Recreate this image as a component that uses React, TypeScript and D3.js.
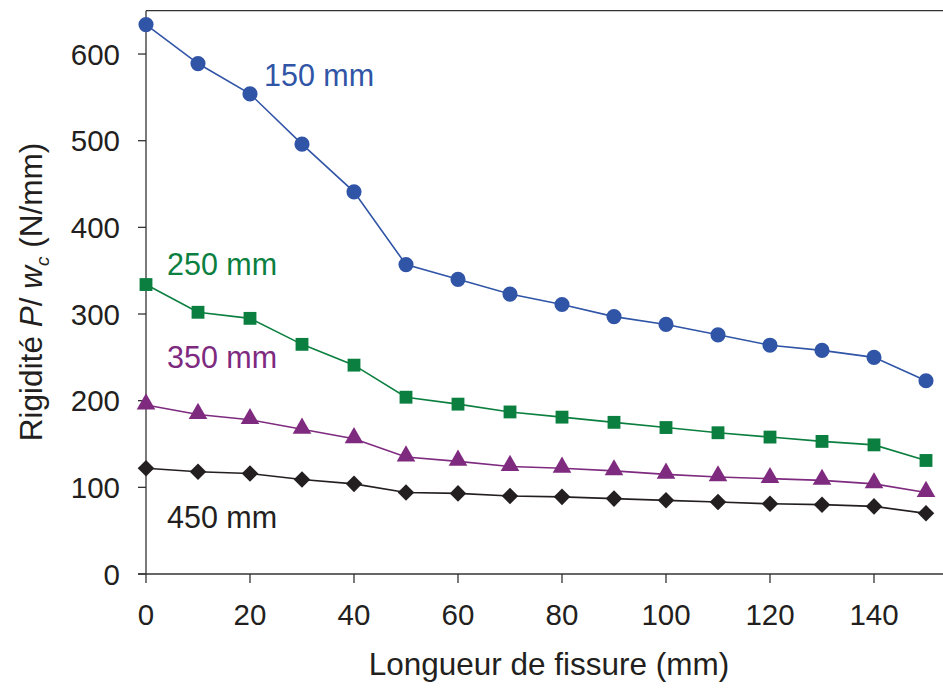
import React from "react";
import * as d3 from "d3";

const crackLengths = [0, 10, 20, 30, 40, 50, 60, 70, 80, 90, 100, 110, 120, 130, 140, 150];
const s150 = [634, 589, 554, 496, 441, 357, 340, 323, 311, 297, 288, 276, 264, 258, 250, 223];
const s250 = [334, 302, 295, 265, 241, 204, 196, 187, 181, 175, 169, 163, 158, 153, 149, 131];
const s350 = [195, 184, 178, 167, 156, 135, 130, 124, 122, 119, 115, 112, 110, 108, 104, 94];
const s450 = [122, 118, 116, 109, 104, 94, 93, 90, 89, 87, 85, 83, 81, 80, 78, 70];
const xTicks = [0, 20, 40, 60, 80, 100, 120, 140];
const yTicks = [0, 100, 200, 300, 400, 500, 600];

const seriesList = [
  { name: "150 mm", values: s150, color: "#3054A6", marker: "circle", lx: 264, ly: 86 },
  { name: "250 mm", values: s250, color: "#0B7F3F", marker: "square", lx: 167, ly: 275 },
  { name: "350 mm", values: s350, color: "#7E2A7F", marker: "triangle", lx: 167, ly: 368 },
  { name: "450 mm", values: s450, color: "#231F20", marker: "diamond", lx: 167, ly: 528 },
];

const FONT = "'Liberation Sans', Arial, Helvetica, sans-serif";

export default function App() {
  const W = 943, H = 688;
  const x0 = 146, x1 = 943;
  const x = d3.scaleLinear().domain([0, 150]).range([146, 926]);
  const y = d3.scaleLinear().domain([0, 650]).range([574, 10.7]);
  const line = d3.line<number>().x((_, i) => x(crackLengths[i])).y((v) => y(v));

  const symbolFor = (m: string) => {
    if (m === "circle") return d3.symbol(d3.symbolCircle, 180)();
    if (m === "square") return d3.symbol(d3.symbolSquare, 165)();
    if (m === "triangle") return d3.symbol(d3.symbolTriangle, 150)();
    return d3.symbol(d3.symbolDiamond2, 175)();
  };

  return (
    <svg width={W} height={H} style={{ display: "block", position: "absolute", left: 0, top: 0 }} fontFamily={FONT}>
      <rect width={W} height={H} fill="#fff" />
      <line x1={x0} x2={x1} y1={y(650)} y2={y(650)} stroke="#333" strokeWidth={1.3} />
      <line x1={x0} x2={x0} y1={y(650)} y2={y(0)} stroke="#333" strokeWidth={1.3} />
      <line x1={x0 - 8} x2={x1} y1={y(0)} y2={y(0)} stroke="#333" strokeWidth={1.3} />
      {yTicks.map((t) => (
        <g key={"y" + t}>
          <line x1={x0 - 8} x2={x0} y1={y(t)} y2={y(t)} stroke="#333" strokeWidth={1.3} />
          <text x={120} y={y(t)} dy="0.36em" textAnchor="end" fontSize={29.5} fill="#231F20">{t}</text>
        </g>
      ))}
      {xTicks.map((t) => (
        <g key={"x" + t}>
          <line x1={x(t)} x2={x(t)} y1={y(0)} y2={y(0) + 9} stroke="#333" strokeWidth={1.3} />
          <text x={x(t)} y={625} textAnchor="middle" fontSize={29.5} fill="#231F20">{t}</text>
        </g>
      ))}
      <text x={549} y={675} textAnchor="middle" fontSize={31.5} fill="#231F20">Longueur de fissure (mm)</text>
      <text transform="translate(42,292) rotate(-90)" textAnchor="middle" fontSize={31.5} fill="#231F20">
        Rigidité <tspan fontStyle="italic">P</tspan>/ <tspan fontStyle="italic">w</tspan>
        <tspan fontSize={19} fontStyle="italic" dy={7}>c</tspan>
        <tspan dy={-7}> (N/mm)</tspan>
      </text>
      {seriesList.map((s) => (
        <g key={s.name}>
          <path d={line(s.values) || ""} fill="none" stroke={s.color} strokeWidth={1.6} />
          {s.values.map((v, i) => (
            <path
              key={i}
              d={symbolFor(s.marker) || ""}
              transform={`translate(${x(crackLengths[i])},${y(v) + (s.marker === "triangle" ? -1 : 0)})`}
              fill={s.color}
            />
          ))}
          <text x={s.lx} y={s.ly} fontSize={30.5} fill={s.color}>{s.name}</text>
        </g>
      ))}
    </svg>
  );
}
